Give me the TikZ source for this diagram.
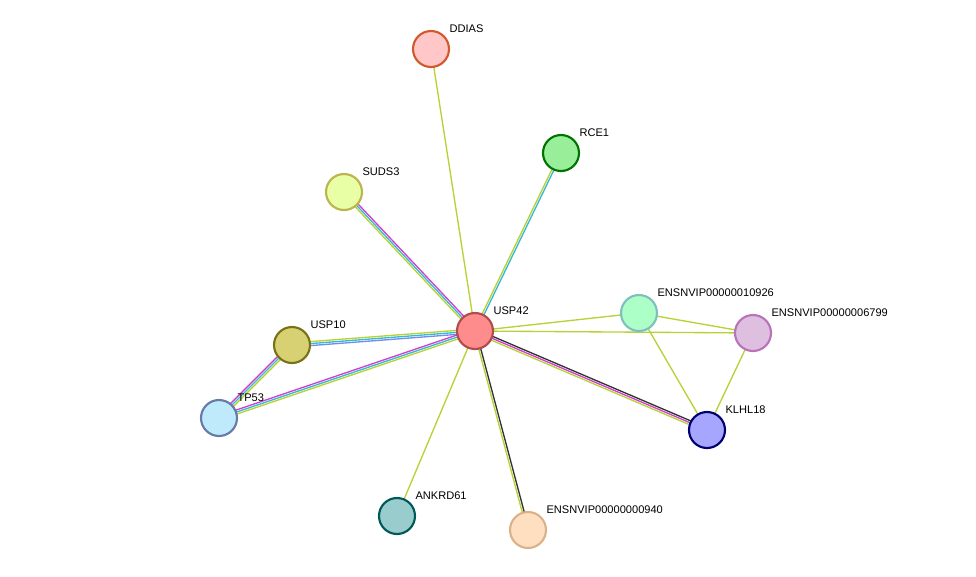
\documentclass[tikz,border=0pt]{standalone}
\usepackage{fontspec}
\setmainfont{Liberation Sans}
\usetikzlibrary{calc,backgrounds}
\definecolor{tm}{HTML}{B5D334}
\definecolor{db}{HTML}{37B9D6}
\definecolor{ex}{HTML}{D13FD1}
\definecolor{co}{HTML}{6F8FE8}
\definecolor{bk}{HTML}{333333}
\tikzset{prot/.style 2 args={circle,draw=#2,fill=#1,line width=1.6pt,minimum size=27pt,inner sep=0pt},
  lab/.style={anchor=south west,font=\fontsize{8.3pt}{9pt}\selectfont,inner sep=1pt},
  edge/.style={line width=1pt}}
% one coloured strand of an edge, shifted sideways by #4
\newcommand{\strand}[4]{\draw[edge,#3] ($(#1.center)!#4!90:(#2.center)$) -- ($(#2.center)!#4!-90:(#1.center)$);}

\begin{document}
\begin{tikzpicture}[x=0.75pt,y=-0.75pt]
\useasboundingbox (0,0) rectangle (976,576);
\node[prot={red!45!white}{red!55!black!70}] (usp42) at (475,331) {};
\node[prot={red!22!white}{brown!70!red}] (ddias) at (431,49) {};
\node[prot={green!55!black!20!white!75!green}{green!45!black}] (rce1) at (561,153) {};
\node[prot={lime!35!white}{olive!60!white}] (suds3) at (344,192) {};
\node[prot={green!25!white!90!cyan}{teal!50!white}] (e10926) at (639,313) {};
\node[prot={violet!25!white}{violet!55!white}] (e6799) at (753,333) {};
\node[prot={olive!40!white!90!yellow}{olive!80!black}] (usp10) at (292,345) {};
\node[prot={cyan!25!white}{cyan!40!blue!50!gray}] (tp53) at (219,418) {};
\node[prot={blue!35!white}{blue!45!black}] (klhl18) at (707,430) {};
\node[prot={teal!40!white}{teal!70!black}] (ankrd61) at (397,516) {};
\node[prot={orange!25!white}{brown!60!white}] (e940) at (528,530) {};

\node[lab] at (448,34) {DDIAS};
\node[lab] at (578,138) {RCE1};
\node[lab] at (361,177) {SUDS3};
\node[lab] at (492,316) {USP42};
\node[lab] at (656,298) {ENSNVIP00000010926};
\node[lab] at (770,318) {ENSNVIP00000006799};
\node[lab] at (309,330) {USP10};
\node[lab] at (236,403) {TP53};
\node[lab] at (724,415) {KLHL18};
\node[lab] at (414,501) {ANKRD61};
\node[lab] at (545,515) {ENSNVIP00000000940};

\begin{pgfonlayer}{background}
\strand{usp42}{ddias}{tm}{0pt}
\strand{usp42}{rce1}{db}{-0.75pt}
\strand{usp42}{rce1}{tm}{0.75pt}
\strand{usp42}{suds3}{ex}{-1.5pt}
\strand{usp42}{suds3}{db}{0pt}
\strand{usp42}{suds3}{tm}{1.5pt}
\strand{usp42}{usp10}{tm}{-1.5pt}
\strand{usp42}{usp10}{db}{0pt}
\strand{usp42}{usp10}{co}{1.5pt}
\strand{usp42}{tp53}{ex}{-1.5pt}
\strand{usp42}{tp53}{db}{0pt}
\strand{usp42}{tp53}{tm}{1.5pt}
\strand{usp10}{tp53}{ex}{-1.5pt}
\strand{usp10}{tp53}{db}{0pt}
\strand{usp10}{tp53}{tm}{1.5pt}
\strand{usp42}{e10926}{tm}{0pt}
\strand{usp42}{e6799}{tm}{0pt}
\strand{e10926}{e6799}{tm}{0pt}
\strand{e10926}{klhl18}{tm}{0pt}
\strand{e6799}{klhl18}{tm}{0pt}
\strand{usp42}{klhl18}{bk}{1.5pt}
\strand{usp42}{klhl18}{ex}{0pt}
\strand{usp42}{klhl18}{tm}{-1.5pt}
\strand{usp42}{ankrd61}{tm}{0pt}
\strand{usp42}{e940}{bk}{0.75pt}
\strand{usp42}{e940}{tm}{-0.75pt}
\end{pgfonlayer}
\end{tikzpicture}
\end{document}
